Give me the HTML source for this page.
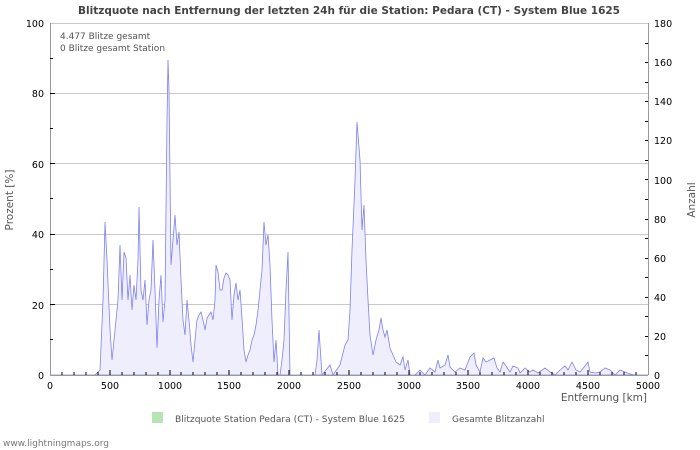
<!DOCTYPE html>
<html><head><meta charset="utf-8"><style>body{margin:0;background:#fff}svg{display:block}text{font-family:"DejaVu Sans","Liberation Sans",sans-serif}</style></head><body>
<svg width="700" height="450" viewBox="0 0 700 450" xmlns="http://www.w3.org/2000/svg">
<rect width="700" height="450" fill="#fff"/>
<text x="349" y="14" text-anchor="middle" font-size="10.6" font-weight="bold" fill="#444" textLength="542" lengthAdjust="spacingAndGlyphs">Blitzquote nach Entfernung der letzten 24h für die Station: Pedara (CT) - System Blue 1625</text>
<g stroke="#c8c8c8" stroke-width="1">
<line x1="50" y1="304.5" x2="648" y2="304.5"/><line x1="50" y1="234.5" x2="648" y2="234.5"/><line x1="50" y1="163.5" x2="648" y2="163.5"/><line x1="50" y1="93.5" x2="648" y2="93.5"/><line x1="50" y1="23.5" x2="648" y2="23.5"/>
</g>
<polygon fill="#eeeefc" stroke="#8080f0" stroke-width="0.8" points="50,375 95,375 100,370 103,300 105,222 107,260 110,330 112,360 115,330 118,300 120,245 122,300 124,252 126,258 128,300 130,275 132,310 134,285 136,300 138,260 139,207 141,290 143,300 145,280 147,325 149,300 151,290 153,240 155,290 157,348 159,300 161,275 163,322 165,300 167,120 168,60 169,90 171,265 173,240 175,215 177,245 179,232 181,280 183,320 185,335 187,300 189,320 191,345 193,362 195,340 197,320 199,315 201,312 203,320 205,330 207,318 209,315 211,312 213,320 215,300 216,265 218,272 220,290 222,290 224,278 226,273 228,275 230,280 232,320 234,295 236,283 238,300 240,290 242,318 244,350 246,362 248,355 250,350 252,340 254,335 256,325 258,310 260,290 262,270 264,222 266,245 268,235 270,265 272,320 274,362 276,340 278,375 280,375 282,360 284,340 286,290 288,252 290,375 315,375 317,360 319,330 322,375 330,365 333,375 340,365 345,345 348,340 350,310 352,250 355,180 357,122 360,160 362,230 364,205 366,260 368,300 370,335 373,355 376,340 379,330 381,318 383,330 385,337 387,330 390,348 393,355 396,362 400,365 403,357 405,370 408,360 410,375 415,375 420,370 425,375 430,368 435,372 438,360 440,368 445,365 448,355 450,367 455,372 460,368 465,370 470,357 474,353 476,365 480,372 483,358 486,362 490,360 494,358 497,368 500,372 503,362 506,366 510,372 513,366 518,368 520,373 525,368 530,372 533,370 538,373 545,368 550,372 555,375 560,370 565,366 568,370 572,362 576,370 580,372 585,366 588,362 590,372 595,373 600,372 605,368 610,370 615,375 620,370 625,372 630,374 635,375 648,375"/>
<g stroke="#999" stroke-width="1" fill="none">
<line x1="50.5" y1="23" x2="50.5" y2="375"/><line x1="648.5" y1="23" x2="648.5" y2="375"/><line x1="50" y1="375.5" x2="648" y2="375.5"/>
</g>
<g stroke="#000" stroke-width="1">
<path d="M62,375v-3M74,375v-3M86,375v-3M98,375v-3M122,375v-3M134,375v-3M146,375v-3M158,375v-3M181,375v-3M193,375v-3M205,375v-3M217,375v-3M241,375v-3M253,375v-3M265,375v-3M277,375v-3M301,375v-3M313,375v-3M325,375v-3M337,375v-3M361,375v-3M373,375v-3M385,375v-3M397,375v-3M420,375v-3M432,375v-3M444,375v-3M456,375v-3M480,375v-3M492,375v-3M504,375v-3M516,375v-3M540,375v-3M552,375v-3M564,375v-3M576,375v-3M600,375v-3M612,375v-3M624,375v-3M636,375v-3"/>
<path d="M110,375v-5M170,375v-5M229,375v-5M289,375v-5M349,375v-5M409,375v-5M468,375v-5M528,375v-5M588,375v-5"/>
<path d="M50,339.5h3M50,269.5h3M50,198.5h3M50,128.5h3M50,58.5h3M50,304.5h5M50,234.5h5M50,163.5h5M50,93.5h5"/>
<path d="M648,355.5h-3M648,336.5h-3M648,316.5h-3M648,297.5h-3M648,277.5h-3M648,258.5h-3M648,238.5h-3M648,219.5h-3M648,199.5h-3M648,179.5h-3M648,160.5h-3M648,140.5h-3M648,121.5h-3M648,101.5h-3M648,82.5h-3M648,62.5h-3M648,43.5h-3"/>
</g>
<g font-size="9.5" fill="#000" text-anchor="end">
<text x="44" y="379">0</text><text x="44" y="309">20</text><text x="44" y="238">40</text><text x="44" y="168">60</text><text x="44" y="97">80</text><text x="44" y="27">100</text>
</g>
<g font-size="9.5" fill="#000" text-anchor="start">
<text x="654" y="379">0</text><text x="654" y="340">20</text><text x="654" y="301">40</text><text x="654" y="262">60</text><text x="654" y="223">80</text><text x="654" y="184">100</text><text x="654" y="144">120</text><text x="654" y="105">140</text><text x="654" y="66">160</text><text x="654" y="27">180</text>
</g>
<g font-size="9.5" fill="#000" text-anchor="middle">
<text x="50" y="389">0</text><text x="110" y="389">500</text><text x="170" y="389">1000</text><text x="229" y="389">1500</text><text x="289" y="389">2000</text><text x="349" y="389">2500</text><text x="409" y="389">3000</text><text x="468" y="389">3500</text><text x="528" y="389">4000</text><text x="588" y="389">4500</text><text x="648" y="389">5000</text>
</g>
<text x="647" y="401" text-anchor="end" font-size="10.5" fill="#555">Entfernung   [km]</text>
<text transform="translate(13,200) rotate(-90)" text-anchor="middle" font-size="10.5" fill="#555">Prozent   [%]</text>
<text transform="translate(695,200) rotate(-90)" text-anchor="middle" font-size="10.5" fill="#555">Anzahl</text>
<text x="60" y="39" font-size="9" fill="#555">4.477 Blitze gesamt</text>
<text x="60" y="51" font-size="9" fill="#555">0 Blitze gesamt Station</text>
<rect x="152" y="412" width="11" height="11" fill="#b8e3b5"/>
<text x="175" y="422" font-size="9" fill="#555" textLength="230" lengthAdjust="spacingAndGlyphs">Blitzquote Station Pedara (CT) - System Blue 1625</text>
<rect x="429" y="412" width="11" height="11" fill="#eeeefc"/>
<text x="452" y="422" font-size="9" fill="#555">Gesamte Blitzanzahl</text>
<text x="3" y="446" font-size="9" fill="#777">www.lightningmaps.org</text>
</svg>
</body></html>
